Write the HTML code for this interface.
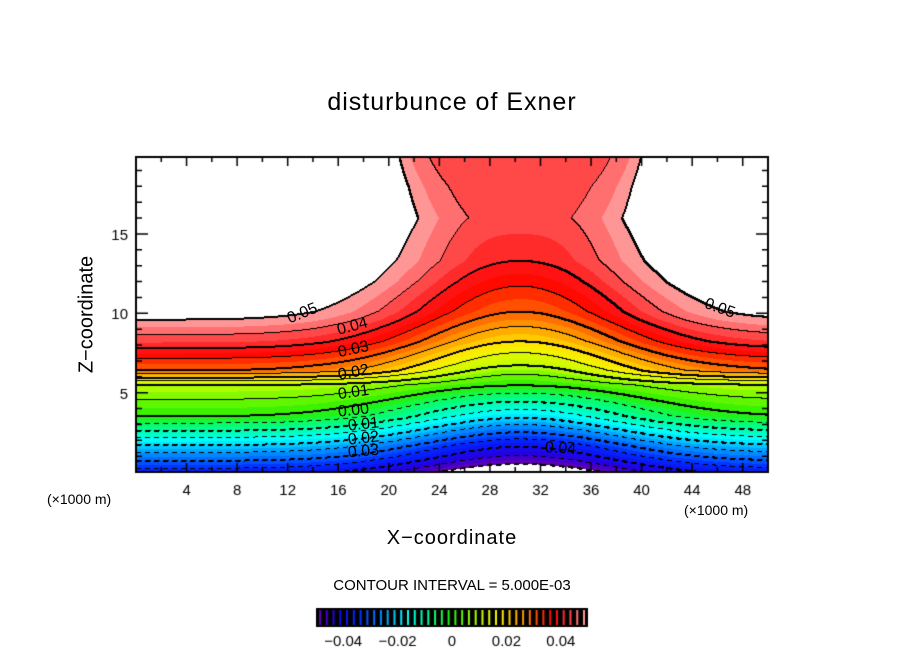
<!DOCTYPE html>
<html><head><meta charset="utf-8">
<style>
body{margin:0;background:#fff;width:904px;height:654px;overflow:hidden;font-family:"Liberation Sans",sans-serif;}
#wrap{position:relative;width:904px;height:654px;}
.t{position:absolute;white-space:nowrap;color:#000;}
</style></head>
<body><div id="wrap">
<canvas id="cv" width="904" height="654" style="position:absolute;left:0;top:0"></canvas>
<div class="t" style="left:0;width:904px;text-align:center;top:88px;font-size:25px;letter-spacing:1px">disturbunce of Exner</div>
<div class="t" style="left:22px;top:303px;width:130px;text-align:center;font-size:20px;transform:rotate(-90deg)">Z−coordinate</div>
<div class="t" style="left:0;width:904px;text-align:center;top:527px;font-size:20px;letter-spacing:1px">X−coordinate</div>
<div class="t" style="left:47px;top:491px;font-size:14px">(×1000 m)</div>
<div class="t" style="left:684px;top:502px;font-size:14px">(×1000 m)</div>
<div class="t" style="left:0;width:904px;text-align:center;top:577px;font-size:15px">CONTOUR INTERVAL = 5.000E-03</div>
<div id="labels"></div>
</div>
<script>
// data
const zGrid = [0, 0.5, 1, 1.6, 3.5, 5.46, 6.4, 6.72, 7.8, 8.23, 9.6, 10.1, 12, 13.3, 15, 16, 18, 20];
const profileFar = [-0.037, -0.032, -0.027, -0.021, 0.0, 0.0095, 0.03, 0.032, 0.04, 0.043, 0.05, 0.052, 0.056, 0.057, 0.058, 0.059, 0.0595, 0.06];
const profileCenter = [-0.056, -0.05, -0.045, -0.04, -0.019, 0.0, 0.007, 0.01, 0.017, 0.02, 0.0275, 0.03, 0.036, 0.04, 0.0425, 0.044, 0.0439, 0.0438];
const bumpWidth = [10.5, 10.5, 10.5, 10.5, 10.5, 10.5, 10.5, 10.5, 10.5, 10.5, 10.5, 10.5, 10.5, 10.4, 10.3, 10.15, 10.4, 10.7];
const bumpShape = [2, 2, 2, 2, 2, 2, 2, 2, 2, 2, 2, 2, 2, 2.1, 2.5, 2.9, 4.3, 6.7];
const bumpCenter = 30.4;
const xTicks = [4, 8, 12, 16, 20, 24, 28, 32, 36, 40, 44, 48];
const yTicks = [5, 10, 15];
const cbTicks = [-0.04, -0.02, 0, 0.02, 0.04];
const cbTickLabels = ["−0.04", "−0.02", "0", "0.02", "0.04"];
const contourLabels = [
  {t:"0.05", x:13.4, z:9.9, r:-22},{t:"0.04", x:17.3, z:9.1, r:-15},{t:"0.03", x:17.4, z:7.6, r:-12},
  {t:"0.02", x:17.4, z:6.2, r:-10},{t:"0.01", x:17.4, z:4.9, r:-8},{t:"0.00", x:17.4, z:3.8, r:-6},
  {t:"0.01", x:18.2, z:2.9, r:-6},{t:"0.02", x:18.2, z:2.0, r:-6},{t:"0.03", x:18.2, z:1.2, r:-5},
  {t:"0.04", x:33.8, z:1.4, r:3},{t:"0.05", x:46.4, z:10.2, r:20}
];
const L=136,R=768,T=157,B=472, X0=0,X1=50,Z0=0,Z1=19.85;
const sx=v=>L+(v-X0)/(X1-X0)*(R-L);
const sz=v=>B-(v-Z0)/(Z1-Z0)*(B-T);
function interp(arr,z){
  if(z<=zGrid[0])return arr[0];
  for(let i=1;i<zGrid.length;i++){if(z<=zGrid[i]){const t=(z-zGrid[i-1])/(zGrid[i]-zGrid[i-1]);return arr[i-1]+t*(arr[i]-arr[i-1]);}}
  return arr[arr.length-1];
}
function field(x,z){
  const far=interp(profileFar,z),c=interp(profileCenter,z);
  const w=interp(bumpWidth,z),p=interp(bumpShape,z);
  const b=Math.exp(-Math.pow(Math.abs(x-bumpCenter)/w,p));
  return far+(c-far)*b;
}
const stops=[[-0.05,[110,0,170]],[-0.043,[30,0,230]],[-0.035,[0,40,255]],[-0.025,[0,150,255]],[-0.017,[0,255,255]],[-0.008,[0,255,140]],[0,[40,240,0]],[0.01,[190,255,0]],[0.018,[255,240,0]],[0.025,[255,160,0]],[0.032,[255,70,0]],[0.037,[255,0,0]],[0.043,[255,60,60]],[0.05,[255,170,170]]];
function col(v){
  v=Math.floor(v/0.0025)*0.0025+0.00125;
  if(v<=stops[0][0])return stops[0][1];
  for(let i=1;i<stops.length;i++){if(v<=stops[i][0]){const a=stops[i-1],b=stops[i],t=(v-a[0])/(b[0]-a[0]);return [0,1,2].map(k=>Math.round(a[1][k]+t*(b[1][k]-a[1][k])));}}
  return stops[stops.length-1][1];
}
const cv=document.getElementById('cv'),ctx=cv.getContext('2d');
const W=R-L,H=B-T;
const img=ctx.createImageData(W,H);
const q=new Array(W*H);
for(let j=0;j<H;j++)for(let i=0;i<W;i++){
  const x=X0+(i+0.5)/W*(X1-X0),z=Z1-(j+0.5)/H*(Z1-Z0);
  const v=field(x,z);q[j*W+i]=Math.floor(v/0.005+1e-9);
  const p=(j*W+i)*4;
  if(v>0.05||v<-0.05){img.data[p]=img.data[p+1]=img.data[p+2]=255;}
  else{const c=col(v);img.data[p]=c[0];img.data[p+1]=c[1];img.data[p+2]=c[2];}
  img.data[p+3]=255;
}
function setB(i,j){if(i<0||j<0||i>=W||j>=H)return;const p=(j*W+i)*4;img.data[p]=img.data[p+1]=img.data[p+2]=0;}
for(let j=0;j<H;j++)for(let i=0;i<W;i++){
  const a=q[j*W+i];
  const nb=[i+1<W?q[j*W+i+1]:a, j+1<H?q[(j+1)*W+i]:a];
  for(const b of nb){
    if(b!==a){
      const lvl=Math.max(a,b)*0.005;
      if(lvl>0.0501||lvl<-0.0501)continue;
      if(lvl<-0.001 && (i%9)>=5)continue;
      setB(i,j);
      if(Math.abs(Math.round(lvl/0.01)*0.01-lvl)<1e-6){setB(i,j+1);setB(i+1,j);}
    }
  }
}
ctx.putImageData(img,L,T);
ctx.strokeStyle='#000';ctx.lineWidth=2;ctx.strokeRect(L,T,W,H);
ctx.lineWidth=1.5;ctx.fillStyle='#000';ctx.font='15px "Liberation Sans", sans-serif';ctx.textAlign='center';
ctx.beginPath();
for(let v=0;v<=50;v+=4){const X=sx(v);ctx.moveTo(X,B);ctx.lineTo(X,B-9);ctx.moveTo(X,T);ctx.lineTo(X,T+9);}
for(let v=0;v<=50;v+=2){const X=sx(v);ctx.moveTo(X,B);ctx.lineTo(X,B-5);ctx.moveTo(X,T);ctx.lineTo(X,T+5);}
for(let v=1;v<20;v++){const Y=sz(v);const len=v%5===0?12:6;ctx.moveTo(L,Y);ctx.lineTo(L+len,Y);ctx.moveTo(R,Y);ctx.lineTo(R-len,Y);}
ctx.stroke();
xTicks.forEach(v=>ctx.fillText(String(v),sx(v),B+23));
ctx.textAlign='right';
yTicks.forEach(v=>ctx.fillText(String(v),L-8,sz(v)+6));
const cbL=316,cbR=588,cbT=608,cbB=627;
ctx.fillStyle='#000';ctx.fillRect(cbL,cbT,cbR-cbL,cbB-cbT);
for(let k=0;k<40;k++){const v=-0.05+k*0.0025+0.00125;const c=col(v);ctx.fillStyle=`rgb(${c[0]},${c[1]},${c[2]})`;const X=cbL+4+k*(cbR-cbL-8)/39;ctx.fillRect(X-1,cbT+2,2,cbB-cbT-4);}
ctx.fillStyle='#000';ctx.textAlign='center';
const cbx=v=>cbL+(v+0.05)/0.1*(cbR-cbL);
cbTicks.forEach((v,k)=>ctx.fillText(cbTickLabels[k],cbx(v),646));
const lab=document.getElementById('labels');
contourLabels.forEach(o=>{
  const d=document.createElement('div');
  
  
  d.className='t';d.textContent=o.t;
  d.style.cssText=`left:${sx(o.x)-18}px;top:${sz(o.z)-10}px;font-size:16px;transform:rotate(${o.r}deg)`;
  lab.appendChild(d);
});
</script>
</body></html>
